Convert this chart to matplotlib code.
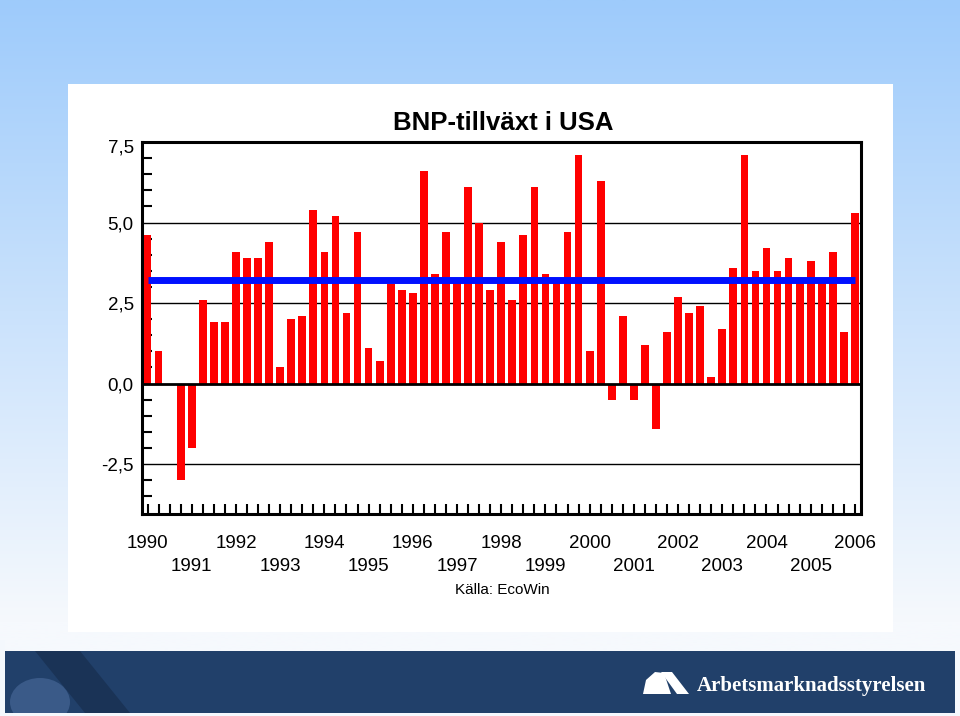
import numpy as np
import matplotlib.pyplot as plt
import matplotlib.transforms as mtransforms
from matplotlib.patches import Rectangle, Polygon, Ellipse

# --- data: quarterly GDP growth USA, 1990Q1 - 2006Q1 ---
growth = [
    4.6, 1.0, 0.0, -3.0,      # 1990
    -2.0, 2.6, 1.9, 1.9,      # 1991
    4.1, 3.9, 3.9, 4.4,       # 1992
    0.5, 2.0, 2.1, 5.4,       # 1993
    4.1, 5.2, 2.2, 4.7,       # 1994
    1.1, 0.7, 3.1, 2.9,       # 1995
    2.8, 6.6, 3.4, 4.7,       # 1996
    3.2, 6.1, 5.0, 2.9,       # 1997
    4.4, 2.6, 4.6, 6.1,       # 1998
    3.4, 3.2, 4.7, 7.1,       # 1999
    1.0, 6.3, -0.5, 2.1,      # 2000
    -0.5, 1.2, -1.4, 1.6,     # 2001
    2.7, 2.2, 2.4, 0.2,       # 2002
    1.7, 3.6, 7.1, 3.5,       # 2003
    4.2, 3.5, 3.9, 3.2,       # 2004
    3.8, 3.2, 4.1, 1.6,       # 2005
    5.3,                      # 2006
]
average = 3.2
years = list(range(1990, 2007))
ytick_vals = [-2.5, 0.0, 2.5, 5.0, 7.5]
ytick_labels = ["-2,5", "0,0", "2,5", "5,0", "7,5"]

plt.rcParams["font.family"] = ["Liberation Sans", "DejaVu Sans"]

W, H = 960, 716
fig = plt.figure(figsize=(W / 100, H / 100), dpi=100)

# --- slide background ---
bg = fig.add_axes([0, 0, 1, 1], zorder=-5)
bg.set_xlim(0, W)
bg.set_ylim(H, 0)
bg.axis("off")
top_c = np.array([0x9e, 0xcb, 0xfb]) / 255
bot_c = np.array([0xf6, 0xf9, 0xfd]) / 255
t = np.linspace(0, 1, 256)[:, None]
grad = top_c + (bot_c - top_c) * np.clip(t * 1.15, 0, 1)
bg.imshow(grad[:, None, :], extent=[0, W, H, 0], aspect="auto")
bg.add_patch(Rectangle((68, 84), 825, 548, color="white", lw=0))
# bottom navy band with logo
bg.add_patch(Rectangle((5, 651), 950, 62, color="#21406a", lw=0))
bg.add_patch(Polygon([(35, 651), (80, 651), (130, 713), (85, 713)],
                     closed=True, color="#1a3356", lw=0))
bg.add_patch(Ellipse((40, 702), 60, 48, color="#3a5a88", lw=0))
bg.add_patch(Rectangle((0, 713), W, 3, color="#f4f8fd", lw=0))
bg.add_patch(Rectangle((0, 640), 5, 76, color="#f4f8fd", lw=0))
bg.add_patch(Polygon([(643, 694), (646, 680), (655, 672), (664, 673), (671, 694)],
                     closed=True, color="white", lw=0))
bg.add_patch(Polygon([(661, 672), (672, 672), (689, 694), (677, 694)],
                     closed=True, color="white", lw=0))
bg.text(697, 686, "Arbetsmarknadsstyrelsen", color="white", fontsize=15,
        fontweight="bold", family="Liberation Serif", va="center", ha="left")

# --- chart ---
ax = fig.add_axes([142 / W, 1 - 514 / H, (861 - 142) / W, (514 - 142) / H])
x = np.arange(len(growth))
ax.bar(x, growth, width=0.7, color="#ff0000", zorder=3)
ax.plot([x[0], x[-1]], [average, average], color="#0010ff", lw=5,
        solid_capstyle="butt", zorder=4)

for v in [-2.5, 2.5, 5.0]:
    ax.axhline(v, color="black", lw=1, zorder=1)
ax.axhline(0, color="black", lw=2, zorder=5)

ax.set_xlim(-0.5, len(growth) - 0.45)
ax.set_ylim(-4.05, 7.5)

ax.set_yticks(ytick_vals)
ax.set_yticklabels(ytick_labels, fontsize=13.5)
ax.set_yticks(np.arange(-3.5, 7.5, 0.5), minor=True)
ax.tick_params(axis="y", which="major", length=0, pad=6)
ax.tick_params(axis="y", which="minor", direction="in", length=7, width=1.5)
# top label sits a little below the frame edge
top_lbl = ax.get_yticklabels()[-1]
top_lbl.set_transform(top_lbl.get_transform() +
                      mtransforms.ScaledTranslation(0, -3 / 72, fig.dpi_scale_trans))

ax.set_xticks(x, minor=True)
ax.set_xticks([])
ax.tick_params(axis="x", which="minor", direction="in", length=7, width=1.5)
for i, yr in enumerate(years):
    row_y = -0.08 if yr % 2 == 0 else -0.14
    ax.text(i * 4, row_y, str(yr), transform=ax.get_xaxis_transform(),
            ha="center", va="center", fontsize=13.5)

for s in ax.spines.values():
    s.set_linewidth(2.2)

fig.text(503 / W, 1 - 123 / H, "BNP-tillväxt i USA", ha="center", va="center",
         fontsize=18.5, fontweight="bold")
fig.text(502 / W, 1 - 590 / H, "Källa: EcoWin", ha="center", va="center",
         fontsize=11)

fig.savefig("out.png", dpi=100)
